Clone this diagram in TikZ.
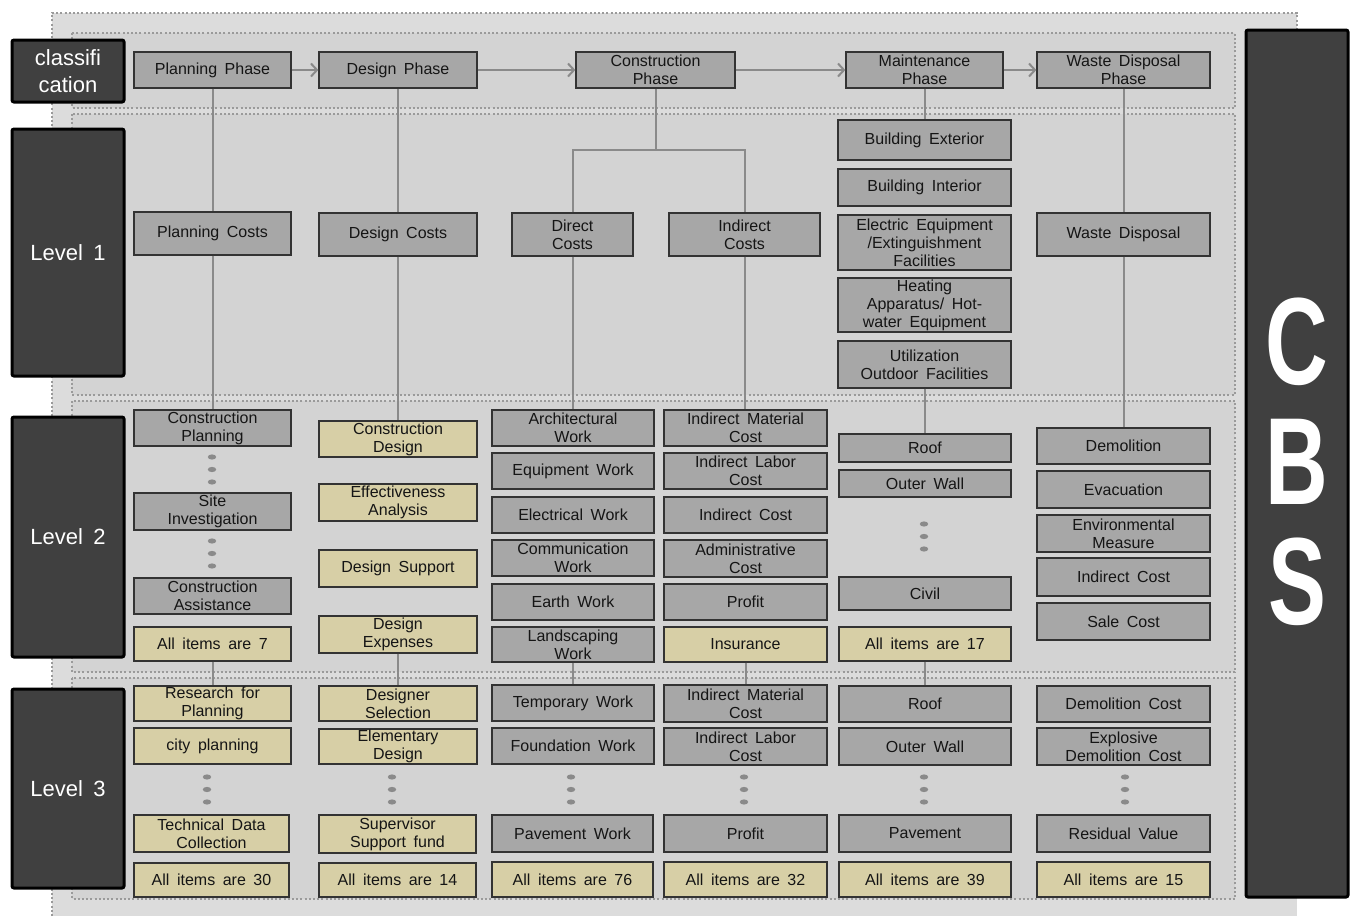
\documentclass[tikz,border=0pt]{standalone}
\usepackage{fontspec}
\setmainfont{Liberation Sans}[WordSpace={1.7}]
\usetikzlibrary{arrows.meta}
\definecolor{boxgray}{HTML}{A7A7A7}
\definecolor{boxtan}{HTML}{D7CFA6}
\definecolor{boxline}{HTML}{333333}
\definecolor{labfill}{HTML}{404040}
\definecolor{outerfill}{HTML}{DCDCDC}
\definecolor{bandfill}{HTML}{D3D3D3}
\definecolor{dotline}{HTML}{9A9A9A}
\definecolor{conn}{HTML}{8A8A8A}
\definecolor{txt}{HTML}{151515}
\newcommand{\mybox}[7]{\node[#1, minimum width={#5-#3}, minimum height={#6-#4}] (#2) at ({(#3+#5)/2},{(#4+#6)/2}) {#7};}
\newcommand{\dotcol}[2]{\foreach \dy in {0,12.5,25}{\fill[conn] (#1,#2+\dy) ellipse (4.2 and 2.6);}}
\tikzset{
  base/.style={draw=boxline, line width=1.3pt, align=center, inner sep=0pt, text=txt, font=\fontsize{16}{18}\selectfont},
  gbox/.style={base, fill=boxgray},
  tbox/.style={base, fill=boxtan},
  lab/.style={fill=labfill, draw=black, line width=3pt, rounded corners=2pt, text=white, align=center, inner sep=0pt, font=\fontsize{22}{27}\selectfont},
  band/.style={fill=bandfill, draw=dotline, line width=1.6pt, dash pattern=on 2pt off 2.2pt},
  link/.style={draw=conn, line width=2pt},
  arr/.style={draw=conn, line width=2pt, -{Straight Barb[length=6pt,width=13pt,line width=2pt]}}
}
\begin{document}
\begin{tikzpicture}[x=1pt,y=-1pt]
\useasboundingbox (0,0) rectangle (1356,916);
\fill[white] (0,0) rectangle (1356,916);
% outer region
\fill[outerfill] (52,13) rectangle (1297,916);
\draw[draw=dotline, line width=1.6pt, dash pattern=on 2pt off 2.2pt] (52,916) -- (52,13) -- (1297,13) -- (1297,40);
% bands
\draw[band] (72,33) rectangle (1235,108);
\draw[band] (72,114) rectangle (1235,395);
\draw[band] (72,401) rectangle (1235,672);
\draw[band] (72,678) rectangle (1235,899);
% left labels
\mybox{lab}{lc}{12}{40}{124}{102}{classifi\\cation}
\mybox{lab}{l1}{12}{129}{124}{376}{Level 1}
\mybox{lab}{l2}{12}{417}{124}{657}{Level 2}
\mybox{lab}{l3}{12}{689}{124}{888}{Level 3}
% CBS
\mybox{lab}{cbsbox}{1246}{30}{1348}{897}{}
\node[text=white, align=center, inner sep=0pt, font=\bfseries\fontsize{124}{120}\selectfont, xscale=0.7, transform shape] (cbs) at (1297,462) {C\\B\\S};
% phases
\mybox{gbox}{pp}{134}{52}{291}{88}{Planning Phase}
\mybox{gbox}{dp}{319}{52}{477}{88}{Design Phase}
\mybox{gbox}{cp}{576}{52}{735}{88}{Construction\\Phase}
\mybox{gbox}{mp}{846}{52}{1003}{88}{Maintenance\\Phase}
\mybox{gbox}{wp}{1037}{52}{1210}{88}{Waste Disposal\\Phase}
% level 1
\mybox{gbox}{pc}{134}{212}{291}{255}{Planning Costs}
\mybox{gbox}{dco}{319}{213}{477}{256}{Design Costs}
\mybox{gbox}{dirc}{512}{213}{633}{256}{Direct\\Costs}
\mybox{gbox}{indc}{669}{213}{820}{256}{Indirect\\Costs}
\mybox{gbox}{be}{838}{120}{1011}{160}{Building Exterior}
\mybox{gbox}{bi}{838}{169}{1011}{206}{Building Interior}
\mybox{gbox}{ee}{838}{215}{1011}{270}{Electric Equipment\\/Extinguishment\\Facilities}
\mybox{gbox}{ha}{838}{278}{1011}{332}{Heating\\Apparatus/ Hot-\\water Equipment}
\mybox{gbox}{uo}{838}{341}{1011}{388}{Utilization\\Outdoor Facilities}
\mybox{gbox}{wd}{1037}{213}{1210}{256}{Waste Disposal}
% level 2 col 1
\mybox{gbox}{cpl}{134}{410}{291}{446}{Construction\\Planning}
\dotcol{212}{457}
\mybox{gbox}{si}{134}{493}{291}{530}{Site\\Investigation}
\dotcol{212}{541}
\mybox{gbox}{ca}{134}{578}{291}{614}{Construction\\Assistance}
\mybox{tbox}{a7}{134}{627}{291}{661}{All items are 7}
% col 2
\mybox{tbox}{cd}{319}{421}{477}{457}{Construction\\Design}
\mybox{tbox}{ea}{319}{484}{477}{521}{Effectiveness\\Analysis}
\mybox{tbox}{ds}{319}{550}{477}{587}{Design Support}
\mybox{tbox}{dex}{319}{616}{477}{653}{Design\\Expenses}
% col 3
\mybox{gbox}{aw}{492}{410}{654}{446}{Architectural\\Work}
\mybox{gbox}{eqw}{492}{453}{654}{489}{Equipment Work}
\mybox{gbox}{elw}{492}{497}{654}{533}{Electrical Work}
\mybox{gbox}{cw}{492}{540}{654}{576}{Communication\\Work}
\mybox{gbox}{ew}{492}{584}{654}{620}{Earth Work}
\mybox{gbox}{lw}{492}{627}{654}{662}{Landscaping\\Work}
% col 4
\mybox{gbox}{imc}{664}{410}{827}{446}{Indirect Material\\Cost}
\mybox{gbox}{ilc}{664}{453}{827}{489}{Indirect Labor\\Cost}
\mybox{gbox}{ic2}{664}{497}{827}{533}{Indirect Cost}
\mybox{gbox}{ac}{664}{540}{827}{577}{Administrative\\Cost}
\mybox{gbox}{pr2}{664}{584}{827}{620}{Profit}
\mybox{tbox}{ins}{664}{627}{827}{662}{Insurance}
% col 5
\mybox{gbox}{rf2}{839}{434}{1011}{462}{Roof}
\mybox{gbox}{ow2}{839}{470}{1011}{497}{Outer Wall}
\dotcol{924}{524}
\mybox{gbox}{cv}{839}{577}{1011}{610}{Civil}
\mybox{tbox}{a17}{839}{627}{1011}{661}{All items are 17}
% col 6
\mybox{gbox}{dm}{1037}{428}{1210}{464}{Demolition}
\mybox{gbox}{ev}{1037}{471}{1210}{508}{Evacuation}
\mybox{gbox}{em}{1037}{515}{1210}{552}{Environmental\\Measure}
\mybox{gbox}{ic6}{1037}{558}{1210}{596}{Indirect Cost}
\mybox{gbox}{sc}{1037}{603}{1210}{640}{Sale Cost}
% level 3 col 1
\mybox{tbox}{rfp}{134}{686}{291}{721}{Research for\\Planning}
\mybox{tbox}{cip}{134}{728}{291}{764}{city planning}
\dotcol{207}{777}
\mybox{tbox}{tdc}{134}{815}{289}{852}{Technical Data\\Collection}
\mybox{tbox}{a30}{134}{863}{289}{897}{All items are 30}
% col 2
\mybox{tbox}{dsel}{319}{686}{477}{721}{Designer\\Selection}
\mybox{tbox}{eld}{319}{729}{477}{764}{Elementary\\Design}
\dotcol{392}{777}
\mybox{tbox}{ssf}{319}{815}{476}{853}{Supervisor\\Support fund}
\mybox{tbox}{a14}{319}{863}{476}{897}{All items are 14}
% col 3
\mybox{gbox}{tw}{492}{685}{654}{721}{Temporary Work}
\mybox{gbox}{fw}{492}{728}{654}{764}{Foundation Work}
\dotcol{571}{777}
\mybox{gbox}{pw}{492}{815}{653}{852}{Pavement Work}
\mybox{tbox}{a76}{492}{862}{653}{897}{All items are 76}
% col 4
\mybox{gbox}{imc3}{664}{685}{827}{722}{Indirect Material\\Cost}
\mybox{gbox}{ilc3}{664}{728}{827}{765}{Indirect Labor\\Cost}
\dotcol{744}{777}
\mybox{gbox}{pr3}{664}{815}{827}{852}{Profit}
\mybox{tbox}{a32}{664}{862}{827}{897}{All items are 32}
% col 5
\mybox{gbox}{rf3}{839}{686}{1011}{722}{Roof}
\mybox{gbox}{ow3}{839}{728}{1011}{765}{Outer Wall}
\dotcol{924}{777}
\mybox{gbox}{pv3}{839}{815}{1011}{852}{Pavement}
\mybox{tbox}{a39}{839}{862}{1011}{897}{All items are 39}
% col 6
\mybox{gbox}{dmc}{1037}{686}{1210}{722}{Demolition Cost}
\mybox{gbox}{edc}{1037}{728}{1210}{765}{Explosive\\Demolition Cost}
\dotcol{1125}{777}
\mybox{gbox}{rv}{1037}{815}{1210}{852}{Residual Value}
\mybox{tbox}{a15}{1037}{862}{1210}{897}{All items are 15}
% phase arrows
\draw[arr] (pp.east) -- (dp.west);
\draw[arr] (dp.east) -- (cp.west);
\draw[arr] (cp.east) -- (mp.west);
\draw[arr] (mp.east) -- (wp.west);
% connectors
\draw[link] (pp.south) -- (pp.south |- pc.north);
\draw[link] (pc.south) -- (pc.south |- cpl.north);
\draw[link] (dp.south) -- (dp.south |- dco.north);
\draw[link] (dco.south) -- (dco.south |- cd.north);
\coordinate (cj) at (655.5,150);
\draw[link] (cp.south) -- (cj);
\draw[link] (dirc.north) -- (dirc.north |- cj) -- (indc.north |- cj) -- (indc.north);
\draw[link] (dirc.south) -- (dirc.south |- aw.north);
\draw[link] (indc.south) -- (indc.south |- imc.north);
\draw[link] (mp.south) -- (mp.south |- be.north);
\draw[link] (uo.south) -- (uo.south |- rf2.north);
\draw[link] (wp.south) -- (wp.south |- wd.north);
\draw[link] (wd.south) -- (wd.south |- dm.north);
\draw[link] (a7.south) -- (a7.south |- rfp.north);
\draw[link] (dex.south) -- (dex.south |- dsel.north);
\draw[link] (lw.south) -- (lw.south |- tw.north);
\draw[link] (ins.south) -- (ins.south |- imc3.north);
\draw[link] (a17.south) -- (a17.south |- rf3.north);
\end{tikzpicture}
\end{document}
